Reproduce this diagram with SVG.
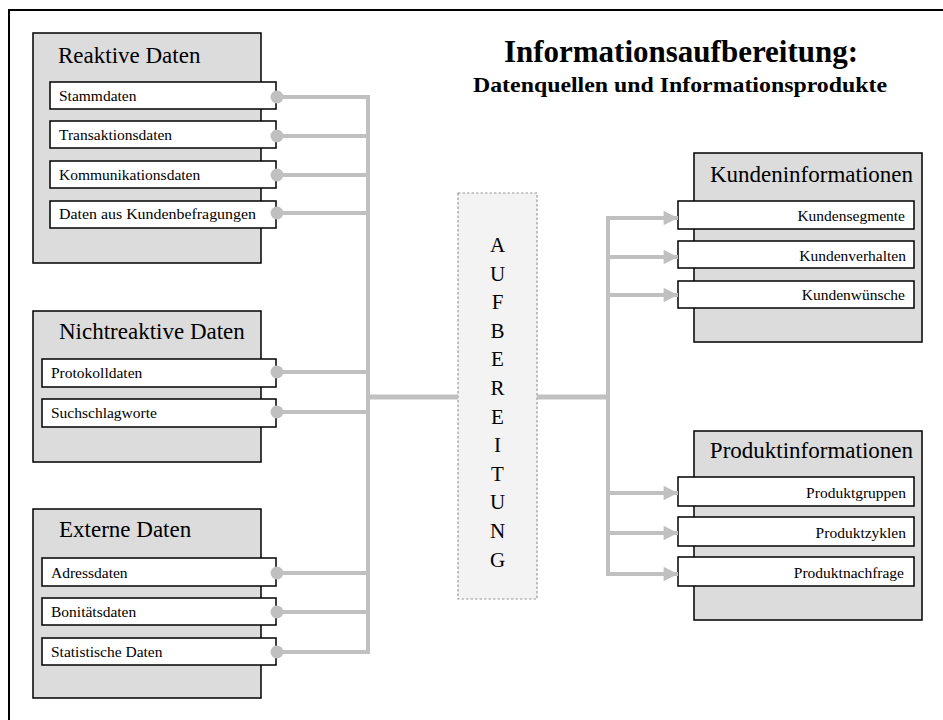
<svg xmlns="http://www.w3.org/2000/svg" width="943" height="720" viewBox="0 0 943 720" font-family="'Liberation Serif', 'Times New Roman', serif">
  <defs>
    <marker id="arrow" viewBox="0 0 10 10" refX="10" refY="5" markerWidth="4.2" markerHeight="3.6" markerUnits="strokeWidth" orient="auto">
      <path d="M0,0 L10,5 L0,10 Z" fill="#c0c0c0"/>
    </marker>
    <style>
      .frame { fill: none; stroke: #000; stroke-width: 2; }
      .group { fill: #dcdcdc; stroke: #000; stroke-width: 1.5; }
      .item { fill: #fff; stroke: #000; stroke-width: 1.5; }
      .gtitle { font-family: 'Liberation Serif', 'Times New Roman', serif; font-size: 23px; fill: #000; }
      .itext { font-family: 'Liberation Serif', 'Times New Roman', serif; font-size: 15.5px; fill: #000; }
      .rt { text-anchor: end; }
      .wire { fill: none; stroke: #c0c0c0; stroke-width: 4; }
      .trunk { fill: none; stroke: #c0c0c0; stroke-width: 5; }
      .dot { fill: #c0c0c0; }
      .letters { font-family: 'Liberation Serif', 'Times New Roman', serif; font-size: 21px; fill: #000; text-anchor: middle; }
      .title { font-family: 'Liberation Serif', 'Times New Roman', serif; font-weight: bold; fill: #000; text-anchor: middle; }
    </style>
  </defs>

  <!-- page frame (top and left edges) -->
  <path class="frame" d="M9,722 V10 H945"/>

  <!-- headline -->
  <g id="headline">
    <text class="title" x="681" y="62" font-size="31">Informationsaufbereitung:</text>
    <text class="title" x="680" y="92" font-size="22" textLength="414" lengthAdjust="spacingAndGlyphs">Datenquellen und Informationsprodukte</text>
  </g>

  <!-- source groups -->
  <g id="reaktive-daten">
    <rect class="group" x="33" y="33" width="228" height="230"/>
    <text class="gtitle" x="58" y="63">Reaktive Daten</text>
    <rect class="item" x="50" y="82" width="226" height="27"/>
    <text class="itext" x="59" y="101">Stammdaten</text>
    <rect class="item" x="50" y="121" width="226" height="27"/>
    <text class="itext" x="59" y="140">Transaktionsdaten</text>
    <rect class="item" x="50" y="161" width="226" height="27"/>
    <text class="itext" x="59" y="180">Kommunikationsdaten</text>
    <rect class="item" x="50" y="201" width="226" height="27"/>
    <text class="itext" x="59" y="219" textLength="197" lengthAdjust="spacingAndGlyphs">Daten aus Kundenbefragungen</text>
  </g>

  <g id="nichtreaktive-daten">
    <rect class="group" x="33" y="311" width="228" height="151"/>
    <text class="gtitle" x="59" y="339">Nichtreaktive Daten</text>
    <rect class="item" x="42" y="359" width="234" height="28"/>
    <text class="itext" x="51" y="378">Protokolldaten</text>
    <rect class="item" x="42" y="399" width="234" height="28"/>
    <text class="itext" x="51" y="418">Suchschlagworte</text>
  </g>

  <g id="externe-daten">
    <rect class="group" x="33" y="509" width="228" height="189"/>
    <text class="gtitle" x="59" y="537">Externe Daten</text>
    <rect class="item" x="42" y="558" width="234" height="28"/>
    <text class="itext" x="51" y="578">Adressdaten</text>
    <rect class="item" x="42" y="598" width="234" height="27"/>
    <text class="itext" x="51" y="617">Bonitätsdaten</text>
    <rect class="item" x="42" y="638" width="234" height="27"/>
    <text class="itext" x="51" y="657">Statistische Daten</text>
  </g>

  <!-- processing block -->
  <g id="aufbereitung">
    <rect x="458" y="193" width="79" height="406" fill="#f3f3f3" stroke="#9a9a9a" stroke-width="1.2" stroke-dasharray="2.5,2"/>
    <text class="letters" x="497.5" y="252">A</text>
    <text class="letters" x="497.5" y="280.6">U</text>
    <text class="letters" x="497.5" y="309.2">F</text>
    <text class="letters" x="497.5" y="337.8">B</text>
    <text class="letters" x="497.5" y="366.4">E</text>
    <text class="letters" x="497.5" y="395">R</text>
    <text class="letters" x="497.5" y="423.6">E</text>
    <text class="letters" x="497.5" y="452.2">I</text>
    <text class="letters" x="497.5" y="480.8">T</text>
    <text class="letters" x="497.5" y="509.4">U</text>
    <text class="letters" x="497.5" y="538">N</text>
    <text class="letters" x="497.5" y="566.6">G</text>
  </g>

  <!-- product groups -->
  <g id="kundeninformationen">
    <rect class="group" x="694" y="153" width="228" height="189"/>
    <text class="gtitle rt" x="913" y="182">Kundeninformationen</text>
    <rect class="item" x="678" y="201" width="236" height="28"/>
    <text class="itext rt" x="905" y="221">Kundensegmente</text>
    <rect class="item" x="678" y="241" width="236" height="27"/>
    <text class="itext rt" x="906" y="261">Kundenverhalten</text>
    <rect class="item" x="678" y="281" width="236" height="27"/>
    <text class="itext rt" x="905" y="300">Kundenwünsche</text>
  </g>

  <g id="produktinformationen">
    <rect class="group" x="694" y="431" width="228" height="189"/>
    <text class="gtitle rt" x="913" y="458">Produktinformationen</text>
    <rect class="item" x="678" y="477" width="236" height="29"/>
    <text class="itext rt" x="906" y="498">Produktgruppen</text>
    <rect class="item" x="678" y="517" width="236" height="29"/>
    <text class="itext rt" x="906" y="538">Produktzyklen</text>
    <rect class="item" x="678" y="557" width="236" height="29"/>
    <text class="itext rt" x="904" y="578">Produktnachfrage</text>
  </g>

  <!-- connectors -->
  <g id="connectors">
    <!-- source feeds into the collector bus -->
    <path class="wire" d="M276,97 H368 M276,136 H368 M276,175 H368 M276,213 H368 M276,372 H368 M276,412 H368 M276,573 H368 M276,612 H368 M276,652 H368"/>
    <path class="wire" d="M368,95 V654"/>
    <path class="trunk" d="M368,397 H458 M537,397 H610"/>
    <!-- distribution bus -->
    <path class="wire" d="M608,216 V576"/>
    <path class="wire" marker-end="url(#arrow)" d="M606,218 H678"/>
    <path class="wire" marker-end="url(#arrow)" d="M606,257 H678"/>
    <path class="wire" marker-end="url(#arrow)" d="M606,295 H678"/>
    <path class="wire" marker-end="url(#arrow)" d="M606,493 H678"/>
    <path class="wire" marker-end="url(#arrow)" d="M606,533 H678"/>
    <path class="wire" marker-end="url(#arrow)" d="M606,574 H678"/>
    <!-- source anchors -->
    <circle class="dot" cx="277" cy="97" r="6.5"/>
    <circle class="dot" cx="277" cy="136" r="6.5"/>
    <circle class="dot" cx="277" cy="175" r="6.5"/>
    <circle class="dot" cx="277" cy="213" r="6.5"/>
    <circle class="dot" cx="277" cy="372" r="6.5"/>
    <circle class="dot" cx="277" cy="412" r="6.5"/>
    <circle class="dot" cx="277" cy="573" r="6.5"/>
    <circle class="dot" cx="277" cy="612" r="6.5"/>
    <circle class="dot" cx="277" cy="652" r="6.5"/>
  </g>
</svg>
